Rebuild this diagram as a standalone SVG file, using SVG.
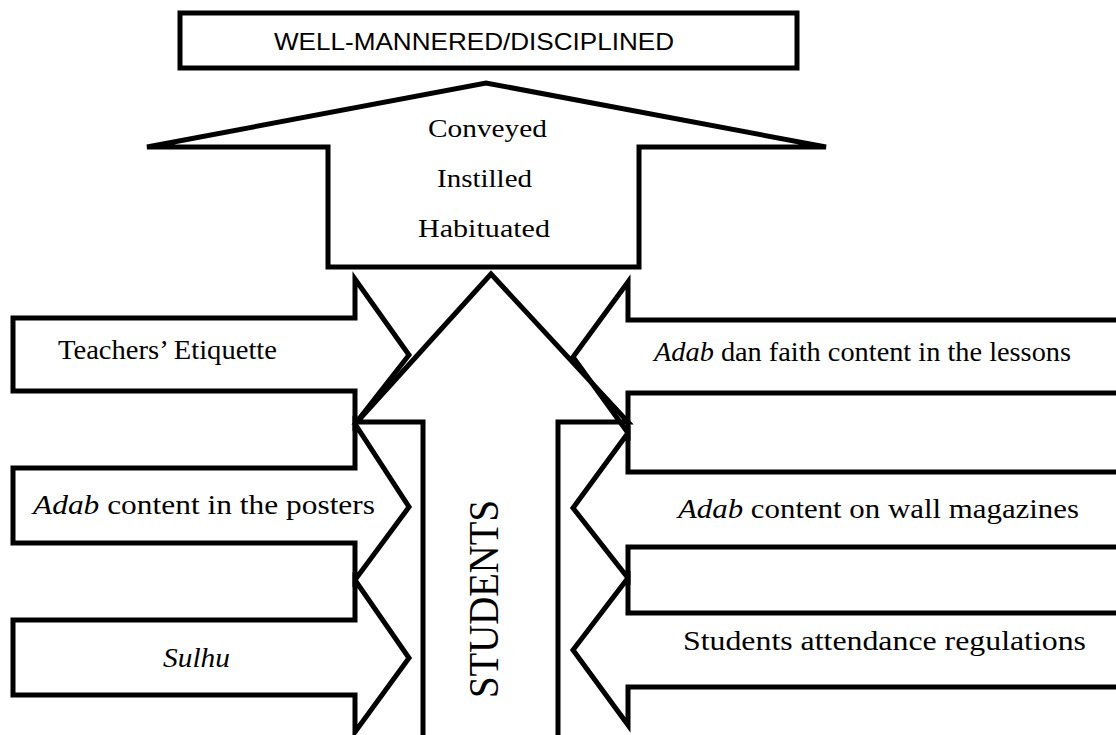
<svg xmlns="http://www.w3.org/2000/svg" width="1116" height="735" viewBox="0 0 1116 735">
<style>
.sh{fill:none;stroke:#000;stroke-width:5;stroke-linejoin:miter;stroke-miterlimit:10}
.bev{stroke-miterlimit:4}
.lbl{font-family:"Liberation Serif",serif;font-size:27px;fill:#000}
.mid{font-family:"Liberation Serif",serif;font-size:25px;fill:#000}
.top{font-family:"Liberation Sans",Arial,sans-serif;font-size:24px;fill:#000}
.it{font-style:italic}
</style>
<rect width="1116" height="735" fill="#fff"/>
<g id="goal">
<rect class="sh" x="180" y="13" width="617" height="55"/>
<text class="top" x="274" y="50" textLength="400" lengthAdjust="spacingAndGlyphs">WELL-MANNERED/DISCIPLINED</text>
</g>
<g id="process">
<polygon class="sh bev" points="147,147 486,83 826,147 639,147 639,267 328,267 328,147"/>
<text class="mid" x="428" y="137" textLength="119" lengthAdjust="spacingAndGlyphs">Conveyed</text>
<text class="mid" x="437" y="187" textLength="95" lengthAdjust="spacingAndGlyphs">Instilled</text>
<text class="mid" x="418" y="237" textLength="132" lengthAdjust="spacingAndGlyphs">Habituated</text>
</g>
<g id="students">
<polygon class="sh" points="357,422 491,274 628,422 558,422 558,745 423,745 423,422"/>
<text class="lbl" transform="translate(498,599) rotate(-90)" text-anchor="middle" style="font-size:42px" textLength="198" lengthAdjust="spacingAndGlyphs">STUDENTS</text>
</g>
<g id="teachers-etiquette">
<polygon class="sh" points="13,318 355,318 355,279 409,355 355,424 355,391 13,391"/>
<text class="lbl" x="58" y="359" textLength="219" lengthAdjust="spacingAndGlyphs">Teachers’ Etiquette</text>
</g>
<g id="posters">
<polygon class="sh" points="13,468 355,468 355,424 409,507 355,580 355,543 13,543"/>
<text class="lbl" x="33" y="514" textLength="342" lengthAdjust="spacingAndGlyphs"><tspan class="it">Adab</tspan> content in the posters</text>
</g>
<g id="sulhu">
<polygon class="sh" points="13,620 355,620 355,580 409,658 355,732 355,695 13,695"/>
<text class="lbl it" x="163" y="667" textLength="67" lengthAdjust="spacingAndGlyphs">Sulhu</text>
</g>
<g id="lessons">
<polygon class="sh" points="1125,320 628,320 628,282 573,357 628,433 628,393 1125,393"/>
<text class="lbl" x="654" y="361" textLength="417" lengthAdjust="spacingAndGlyphs"><tspan class="it">Adab</tspan> dan faith content in the lessons</text>
</g>
<g id="wall-magazines">
<polygon class="sh" points="1125,472 628,472 628,433 573,508 628,578 628,547 1125,547"/>
<text class="lbl" x="678" y="518" textLength="401" lengthAdjust="spacingAndGlyphs"><tspan class="it">Adab</tspan> content on wall magazines</text>
</g>
<g id="attendance">
<polygon class="sh" points="1125,613 628,613 628,578 573,650 628,725 628,687 1125,687"/>
<text class="lbl" x="683" y="650" textLength="403" lengthAdjust="spacingAndGlyphs">Students attendance regulations</text>
</g>
<g id="connectors"></g>
</svg>
